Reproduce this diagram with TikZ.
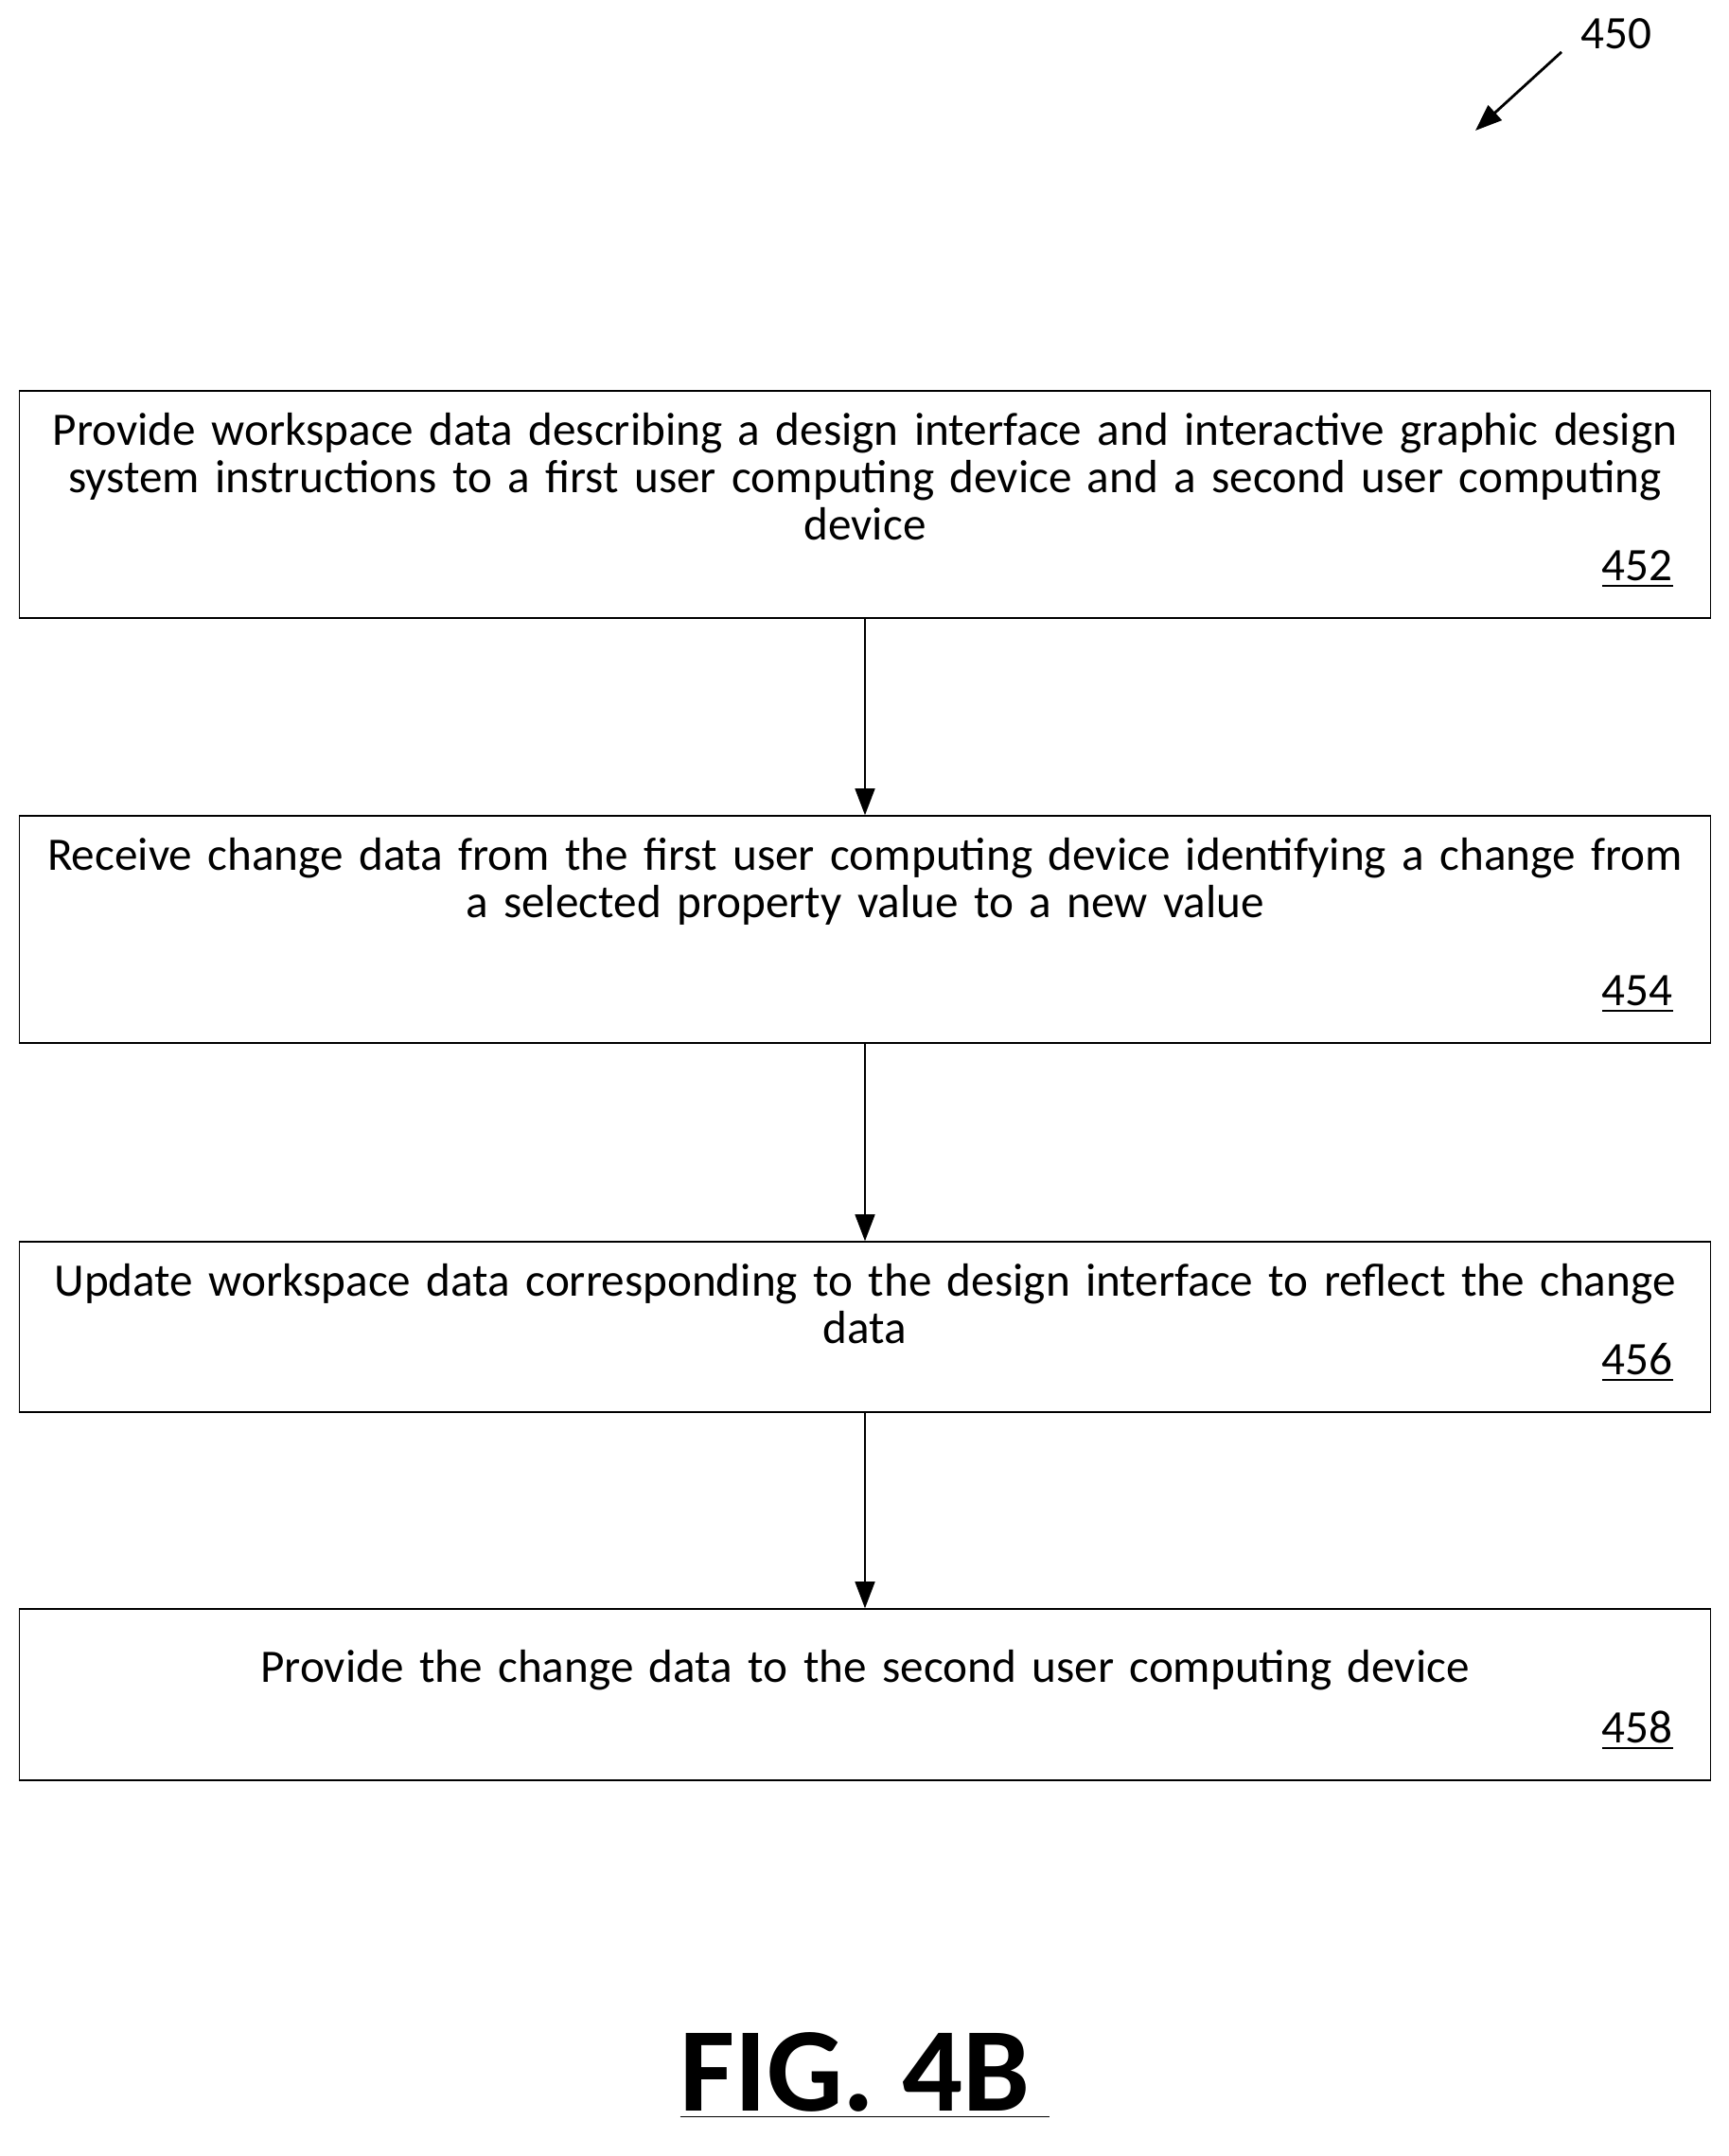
\documentclass[tikz,border=0pt]{standalone}
\usepackage{fontspec}
\setmainfont{Carlito}
\usetikzlibrary{arrows.meta,positioning}
\tikzset{>={Triangle[length=8pt,width=6pt]}}
\tikzstyle{stepbox} = [draw,thin,minimum width=17.87cm,inner sep=0pt]
\tikzstyle{steptext} = [text width=17.6cm,align=center,font=\fontsize{14}{14.2}\selectfont,anchor=north]
\tikzstyle{stepnum} = [font=\fontsize{14}{14.2}\selectfont,anchor=south east]
\begin{document}
\begin{tikzpicture}
    \useasboundingbox (0,0) rectangle (18.26,22.78);
    % boxes
    \node [stepbox,minimum height=2.40cm] (b452) at (9.14,17.45) {};
    \node [stepbox,minimum height=2.40cm] (b454) at (9.14,12.96) {};
    \node [stepbox,minimum height=1.80cm] (b456) at (9.14,8.76) {};
    \node [stepbox,minimum height=1.81cm] (b458) at (9.14,4.875) {};

    \node [steptext] (t452) at ([yshift=-0.12cm]b452.north) {Provide workspace data describing a design interface and interactive graphic design\\ system instructions to a first user computing device and a second user computing\\ device};
    \node [steptext] (t454) at ([yshift=-0.12cm]b454.north) {Receive change data from the first user computing device identifying a change from\\ a selected property value to a new value};
    \node [steptext] (t456) at ([yshift=-0.12cm]b456.north) {Update workspace data corresponding to the design interface to reflect the change\\ data};
    \node [steptext] (t458) at ([yshift=-0.32cm]b458.north) {Provide the change data to the second user computing device};

    \node [stepnum] (n452) at ([xshift=-0.28cm,yshift=0.2cm]b452.south east) {\underline{452}};
    \node [stepnum] (n454) at ([xshift=-0.28cm,yshift=0.2cm]b454.south east) {\underline{454}};
    \node [stepnum] (n456) at ([xshift=-0.28cm,yshift=0.2cm]b456.south east) {\underline{456}};
    \node [stepnum] (n458) at ([xshift=-0.28cm,yshift=0.2cm]b458.south east) {\underline{458}};

    \draw [->] (b452) -- (b454);
    \draw [->] (b454) -- (b456);
    \draw [->] (b456) -- (b458);

    % figure reference
    \node [font=\fontsize{14}{14}\selectfont] (ref) at (17.08,22.42) {450};
    \coordinate (refend) at (15.59,21.40);
    \draw [thick,->] (16.50,22.23) -- (refend);

    \node [font=\fontsize{36}{40}\selectfont\bfseries] (fig) at (9.14,0.85) {\underline{FIG. 4B\,}};
\end{tikzpicture}
\end{document}
